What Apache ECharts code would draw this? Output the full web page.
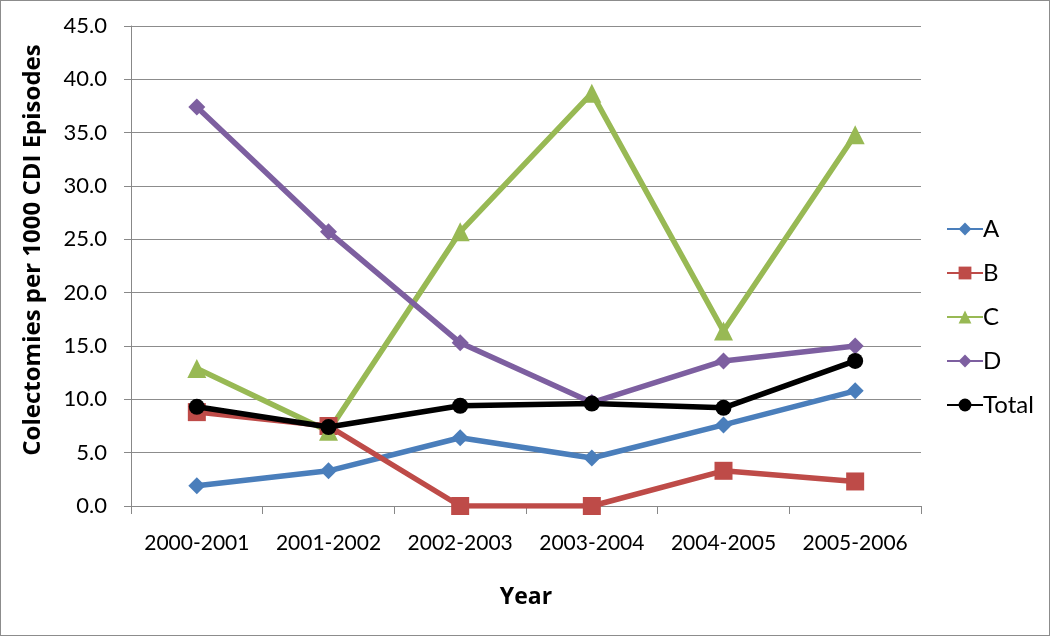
<!DOCTYPE html>
<html>
<head>
<meta charset="utf-8">
<script src="https://cdn.jsdelivr.net/npm/echarts@6/dist/echarts.min.js"></script>
<style>
html,body{margin:0;padding:0;background:#fff;}
#wrap{position:absolute;left:0;top:0;width:1048px;height:634px;border:1px solid #8c8c8c;}
#chart{width:1048px;height:634px;}
</style>
</head>
<body>
<div id="wrap"><div id="chart"></div></div>
<script>
const categories = ['2000-2001','2001-2002','2002-2003','2003-2004','2004-2005','2005-2006'];
const seriesA = [1.9, 3.3, 6.4, 4.5, 7.6, 10.8];
const seriesB = [8.8, 7.5, 0.0, 0.0, 3.3, 2.3];
const seriesC = [12.9, 7.0, 25.7, 38.7, 16.4, 34.8];
const seriesD = [37.4, 25.7, 15.3, 9.7, 13.6, 15.0];
const seriesTotal = [9.3, 7.4, 9.4, 9.6, 9.2, 13.6];
const yTicks = [0, 5, 10, 15, 20, 25, 30, 35, 40, 45];

const font = 'Lato, "Open Sans", sans-serif';
const boldFont = '"Open Sans", Lato, sans-serif';
function mk(name, data, color, symbol, size) {
  return {
    name: name, type: 'line', data: data, symbol: symbol, symbolSize: size,
    lineStyle: {color: color, width: 5.5}, itemStyle: {color: color},
    emphasis: {disabled: true}, z: name === 'Total' ? 5 : 2
  };
}
const chart = echarts.init(document.getElementById('chart'));
chart.setOption({
  animation: false,
  grid: {left: 130, right: 128, top: 25, bottom: 129, containLabel: false},
  legend: {
    orient: 'vertical', left: 940, top: 211, itemGap: 20, itemWidth: 36, itemHeight: 16,
    textStyle: {fontFamily: font, fontSize: 24, color: '#000', padding: [0,0,0,-5]},
    data: ['A','B','C','D','Total']
  },
  xAxis: {
    type: 'category', data: categories, boundaryGap: true,
    name: 'Year', nameLocation: 'middle', nameGap: 80,
    nameTextStyle: {fontFamily: boldFont, fontSize: 23, fontWeight: 'bold', color: '#000'},
    axisLine: {lineStyle: {color: '#888'}},
    axisTick: {show: true, length: 8, lineStyle: {color: '#888'}, alignWithLabel: false},
    axisLabel: {fontFamily: font, fontSize: 21, color: '#000', margin: 27, interval: 0, hideOverlap: false}
  },
  yAxis: {
    type: 'value', min: 0, max: 45, interval: 5,
    name: 'Colectomies per 1000 CDI Episodes', nameLocation: 'middle', nameGap: 86, nameRotate: 90,
    nameTextStyle: {fontFamily: boldFont, fontSize: 24, fontWeight: 'bold', color: '#000', padding: [0, 0, 0, 32]},
    axisLine: {show: true, lineStyle: {color: '#888'}},
    axisTick: {show: true, length: 7, lineStyle: {color: '#888'}},
    axisLabel: {fontFamily: font, fontSize: 22, color: '#000', margin: 24,
      formatter: v => yTicks.includes(v) ? v.toFixed(1) : ''},
    splitLine: {lineStyle: {color: '#8c8c8c', width: 1}}
  },
  series: [
    mk('A', seriesA, '#4a7ebb', 'diamond', 17),
    mk('B', seriesB, '#be4b48', 'rect', 18),
    mk('C', seriesC, '#98b954', 'triangle', 19),
    mk('D', seriesD, '#7d5fa0', 'diamond', 17),
    mk('Total', seriesTotal, '#000000', 'circle', 16)
  ]
});
</script>
</body>
</html>
